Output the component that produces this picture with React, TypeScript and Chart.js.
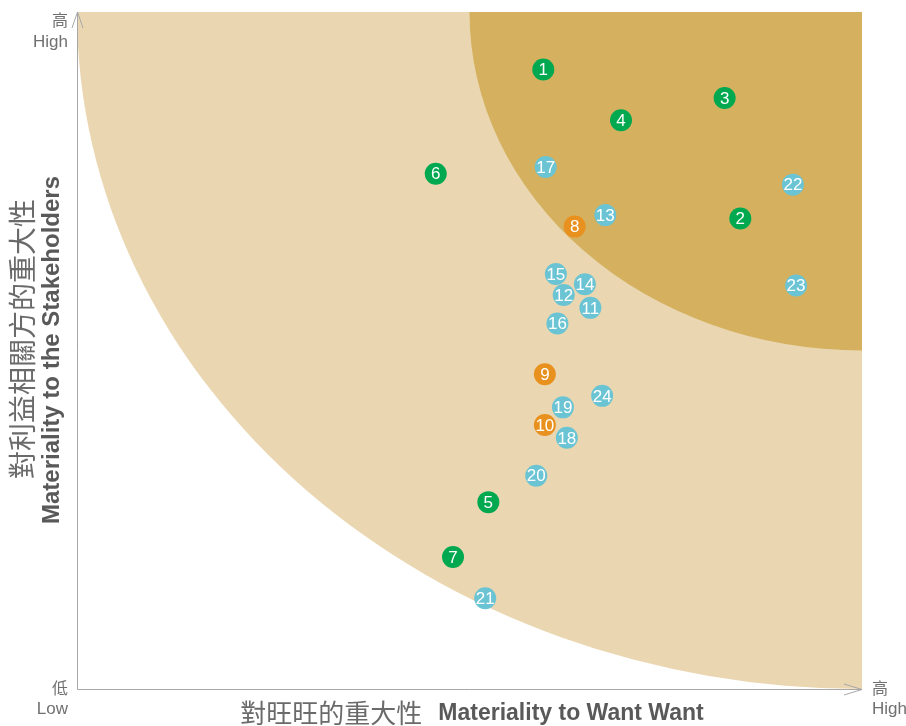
import React, { useEffect, useRef } from "react";
import { Chart, registerables } from "chart.js";

Chart.register(...registerables);

const issueIds = ["1","2","3","4","5","6","7","8","9","10","11","12","13","14","15","16","17","18","19","20","21","22","23","24"];
const xValues = [59.4, 84.5, 82.5, 69.3, 52.4, 45.7, 47.9, 63.4, 59.6, 59.6, 65.4, 62.0, 67.3, 64.7, 61.0, 61.2, 59.7, 62.4, 61.9, 58.5, 52.0, 91.2, 91.6, 66.9];
const yValues = [91.5, 69.5, 87.3, 84.0, 27.6, 76.1, 19.5, 68.3, 46.5, 39.0, 56.3, 58.2, 70.0, 59.8, 61.3, 54.0, 77.1, 37.1, 41.6, 31.5, 13.4, 74.5, 59.6, 43.3];
const groups = ["g","g","g","g","g","g","g","o","o","o","b","b","b","b","b","b","b","b","b","b","b","b","b","b"];
const groupColors: Record<string, string> = { g: "#00a850", o: "#e8911f", b: "#6bc4d3" };
const zoneRadii = [100, 50];
const zoneColors = ["#ead7b1", "#d5b15f"];
const xTitleZh = "對旺旺的重大性";
const xTitleEn = "Materiality to Want Want";
const yTitleZh = "對利益相關方的重大性";
const yTitleEn = "Materiality to the Stakeholders";

const decorPlugin = {
  id: "decor",
  beforeDatasetsDraw(chart: any) {
    const { ctx, scales } = chart;
    const xs = scales.x, ys = scales.y;
    const cx = xs.getPixelForValue(100), cy = ys.getPixelForValue(100);
    ctx.save();
    zoneRadii.forEach((r, i) => {
      const rx = Math.abs(xs.getPixelForValue(100) - xs.getPixelForValue(100 - r));
      const ry = Math.abs(ys.getPixelForValue(100 - r) - ys.getPixelForValue(100));
      ctx.beginPath();
      ctx.moveTo(cx, cy);
      ctx.ellipse(cx, cy, rx, ry, 0, Math.PI / 2, Math.PI, false);
      ctx.closePath();
      ctx.fillStyle = zoneColors[i];
      ctx.fill();
    });
    // axes
    const x0 = xs.getPixelForValue(0), x1 = xs.getPixelForValue(100);
    const y0 = ys.getPixelForValue(0), y1 = ys.getPixelForValue(100);
    ctx.strokeStyle = "#a8a8a8";
    ctx.lineWidth = 1;
    ctx.beginPath();
    ctx.moveTo(x0 + 0.5, y1);
    ctx.lineTo(x0 + 0.5, y0 + 0.5);
    ctx.lineTo(x1, y0 + 0.5);
    ctx.moveTo(x0 - 5, y1 + 16);
    ctx.lineTo(x0 + 0.5, y1);
    ctx.lineTo(x0 + 6, y1 + 16);
    ctx.moveTo(x1 - 18, y0 - 5);
    ctx.lineTo(x1, y0 + 0.5);
    ctx.lineTo(x1 - 18, y0 + 6);
    ctx.stroke();
    // tick labels
    ctx.fillStyle = "#707070";
    ctx.textBaseline = "middle";
    ctx.font = "16px 'Noto Sans CJK TC'";
    ctx.textAlign = "right";
    ctx.fillText("高", x0 - 9, y1 + 8);
    ctx.fillText("低", x0 - 9, y0 - 1);
    ctx.textAlign = "left";
    ctx.fillText("高", x1 + 10, y0 - 1);
    ctx.font = "17px 'Liberation Sans', Arial";
    ctx.textAlign = "right";
    ctx.fillText("High", x0 - 9, y1 + 30);
    ctx.fillText("Low", x0 - 9, y0 + 20);
    ctx.textAlign = "left";
    ctx.fillText("High", x1 + 10, y0 + 20);
    // x title
    ctx.textAlign = "left";
    ctx.textBaseline = "middle";
    ctx.font = "26px 'Noto Sans CJK TC'";
    const zhW = ctx.measureText(xTitleZh).width;
    ctx.font = "bold 23px 'Liberation Sans', Arial";
    const enW = ctx.measureText(xTitleEn).width;
    const gap = 16;
    const total = zhW + gap + enW;
    const startX = 472 - total / 2;
    ctx.fillStyle = "#6a6a6a";
    ctx.font = "26px 'Noto Sans CJK TC'";
    ctx.fillText(xTitleZh, startX, 713);
    ctx.fillStyle = "#595959";
    ctx.font = "bold 23px 'Liberation Sans', Arial";
    ctx.fillText(xTitleEn, startX + zhW + gap, 714);
    // y title
    ctx.save();
    ctx.translate(22, 339);
    ctx.rotate(-Math.PI / 2);
    ctx.textAlign = "center";
    ctx.fillStyle = "#6a6a6a";
    ctx.font = "28px 'Noto Sans CJK TC'";
    ctx.fillText(yTitleZh, 0, 0);
    ctx.restore();
    ctx.save();
    ctx.translate(52, 350);
    ctx.rotate(-Math.PI / 2);
    ctx.textAlign = "center";
    ctx.fillStyle = "#595959";
    ctx.font = "bold 24px 'Liberation Sans', Arial";
    ctx.fillText(yTitleEn, 0, 0);
    ctx.restore();
    ctx.restore();
  },
  afterDatasetsDraw(chart: any) {
    const { ctx } = chart;
    const meta = chart.getDatasetMeta(0);
    ctx.save();
    ctx.fillStyle = "#ffffff";
    ctx.font = "17px 'Liberation Sans', Arial";
    ctx.textAlign = "center";
    ctx.textBaseline = "middle";
    meta.data.forEach((el: any, i: number) => {
      ctx.fillText(issueIds[i], el.x, el.y + 1);
    });
    ctx.restore();
  },
};

export default function App() {
  const ref = useRef<HTMLCanvasElement>(null);
  useEffect(() => {
    document.body.style.margin = "0";
    if (!ref.current) return;
    const chart = new Chart(ref.current, {
      type: "scatter",
      data: {
        datasets: [
          {
            data: xValues.map((x, i) => ({ x, y: yValues[i] })),
            backgroundColor: groups.map((g) => groupColors[g]),
            borderWidth: 0,
            pointRadius: 11,
            pointHoverRadius: 11,
          },
        ],
      },
      options: {
        responsive: false,
        animation: false,
        layout: { padding: { left: 77, top: 12, right: 44, bottom: 37 } },
        plugins: { legend: { display: false }, tooltip: { enabled: false } },
        scales: {
          x: { type: "linear", min: 0, max: 100, display: false },
          y: { type: "linear", min: 0, max: 100, display: false },
        },
      },
      plugins: [decorPlugin],
    });
    return () => chart.destroy();
  }, []);
  return (
    <div style={{ width: 906, height: 726 }}>
      <canvas ref={ref} width={906} height={726} />
    </div>
  );
}
